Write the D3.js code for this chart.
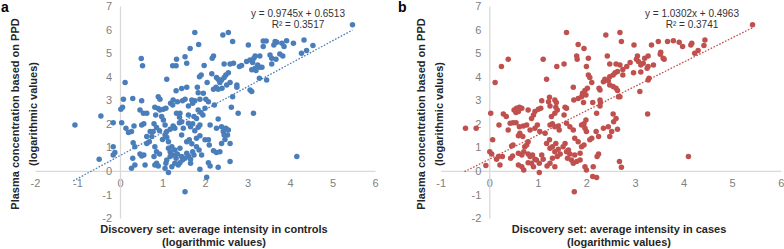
<!DOCTYPE html>
<html lang="en">
<head>
<meta charset="UTF-8">
<title>PPD scatter</title>
<script src="https://d3js.org/d3.v7.min.js"></script>
<style>
  html, body { margin: 0; background: #fff; overflow: hidden; }
  svg { display: block; }
  text { font-family: "Liberation Sans", Arial, sans-serif; }
</style>
</head>
<body>
<svg id="svg" width="784" height="249"></svg>
<script>
// values: [x, y]
const controls = [
  [5.47,6.20],[1.76,5.88],[2.55,5.88],[2.42,5.77],[1.85,5.37],[2.65,5.49],[1.65,5.20],[3.02,5.35],[3.37,5.52],[3.44,5.52],[3.65,5.49],[3.69,5.46],[3.92,5.53],[4.08,5.42],[4.33,5.56],[4.54,5.32],[3.81,5.42],[3.86,5.28],[3.62,5.35],[3.37,5.28],[4.39,5.11],[4.27,5.00],
  [0.50,4.77],[0.53,4.46],[1.33,4.74],[1.53,4.85],[1.57,4.57],[1.24,4.46],[1.32,4.46],[2.20,4.88],[2.17,4.78],[1.98,4.47],[2.45,4.54],[2.59,4.54],[2.67,4.57],
  [2.81,4.43],[2.86,4.48],[2.98,4.64],[3.06,4.71],[3.15,4.78],[3.18,4.88],[3.29,4.88],[3.12,4.60],[3.24,4.50],[3.29,4.40],[3.18,4.36],[3.20,4.26],[3.10,4.29],[3.34,4.40],[3.53,4.92],[3.57,4.78],[3.67,4.74],[3.76,4.96],[3.83,4.88],[3.57,4.54],
  [0.12,3.75],[1.10,3.89],[1.91,4.07],[1.87,4.00],[1.57,3.55],[1.82,3.55],
  [2.05,3.75],[2.16,4.12],[2.27,3.97],[2.31,3.89],[2.39,3.86],[2.45,3.97],[2.49,4.07],[2.55,4.17],[2.35,3.75],[2.26,3.55],[2.20,3.47],[2.31,3.47],[2.40,3.51],[2.51,3.65],[2.59,3.75],[2.75,3.65],[2.75,3.55],
  [3.28,3.93],[3.45,3.86],[3.06,3.44],[3.10,3.37],[1.96,3.30],[1.84,3.32],[2.65,3.15],
  [0.08,3.04],[0.30,3.08],[0.51,2.98],[0.90,3.15],[0.94,3.04],[1.25,3.01],[1.19,2.87],[1.35,2.94],[1.24,2.80],
  [1.47,2.98],[1.53,3.04],[1.69,3.01],[1.76,2.98],[1.88,3.04],[2.02,3.04],[2.08,2.94],[1.71,2.87],
  [2.62,2.70],[2.78,2.45],[3.14,2.45],[2.22,2.80],
  [0.02,2.62],[0.06,2.70],[0.47,2.59],[0.55,2.45],[0.63,2.45],
  [0.82,2.70],[0.90,2.65],[0.94,2.59],[1.02,2.62],[1.08,2.66],[0.84,2.38],[0.98,2.31],
  [1.33,2.45],[1.41,2.45],[1.40,2.28],[1.61,2.76],[1.61,2.38],[1.74,2.31],
  [1.84,2.59],[1.90,2.48],[1.95,2.38],[1.80,2.23],[2.00,2.66],
  [-0.45,2.33],[-1.06,1.95],[-0.16,2.05],[0.04,2.05],
  [0.14,1.81],[0.20,1.63],[0.27,1.67],[0.33,1.91],[0.51,1.95],[0.56,2.00],[0.71,1.67],[0.75,1.46],[0.80,2.00],[0.86,1.84],
  [1.02,2.16],[1.06,1.95],[1.10,1.67],[1.18,1.77],[1.25,1.91],[1.29,1.81],[1.40,2.05],[1.45,2.09],[1.49,1.81],[1.45,1.53],
  [1.61,2.02],[1.66,1.88],[1.71,2.00],[1.76,1.71],[1.84,1.85],[1.88,1.95],
  [2.12,1.95],[2.27,1.81],[2.39,1.88],[2.49,1.81],[2.55,1.74],[2.43,1.67],[2.45,1.53],[2.53,1.53],[2.47,1.34],[2.39,1.17],[2.31,2.21],[2.59,1.17],
  [-0.16,1.03],[-0.12,0.78],[-0.16,0.68],[-0.49,0.50],
  [0.31,1.20],[0.35,1.03],[0.47,0.72],[0.51,0.64],[0.56,0.68],[0.30,0.54],[0.27,0.11],[0.35,0.25],[0.59,0.25],
  [0.82,1.03],[0.86,0.82],[0.93,0.72],[0.80,0.61],[0.86,0.33],[0.90,0.21],[0.82,0.25],
  [1.00,1.34],[1.06,1.53],[1.10,1.43],[1.14,1.24],
  [1.14,0.96],[1.18,0.82],[1.22,1.03],[1.24,0.68],[1.18,0.61],[1.10,0.47],[1.08,0.33],[1.06,0.11],[1.14,-0.07],[1.22,0.18],[1.29,0.33],[1.32,0.54],[1.35,0.72],[1.29,0.89],[1.41,0.96],[1.45,0.61],[1.47,0.47],[1.41,0.35],[1.37,0.25],[1.53,0.54],[1.57,0.75],[1.61,0.64],[1.66,0.50],[1.71,0.82],[1.74,0.68],[1.80,1.03],[1.86,0.89],[1.92,0.68],[1.66,0.33],
  [1.57,1.24],[1.63,1.32],[1.69,1.15],[1.80,1.39],[1.88,1.49],[2.00,1.32],[2.08,1.32],[2.10,1.10],
  [2.08,0.35],[2.12,0.21],[1.88,0.07],[2.04,-0.27],[2.31,0.16],[2.59,0.40],
  [2.20,0.86],[2.27,0.78],[2.35,0.82],[4.16,0.61],[1.53,-0.88],
  [0.63,1.46],[0.69,1.24],[0.63,1.17],[0.93,1.71],[0.78,1.67],[1.45,3.50],[1.32,3.40]
];

const cases = [
  [5.42,6.20],[1.59,5.88],[2.69,5.88],[2.40,5.77],[1.83,5.37],[1.95,5.20],[2.72,5.49],[2.98,5.35],
  [3.34,5.35],[3.48,5.49],[3.67,5.49],[3.79,5.53],[3.91,5.46],[3.98,5.28],[4.15,5.35],[4.17,5.42],[4.44,5.56],[4.42,5.32],[3.53,5.04],[3.52,4.95],[3.58,4.78],[3.60,4.74],[4.23,5.00],[4.30,5.11],
  [0.39,4.74],[0.25,4.43],[0.12,3.75],[1.11,4.74],[1.39,4.43],[1.54,4.54],
  [1.80,4.88],[1.81,4.74],[2.04,4.78],[2.00,4.43],[2.43,4.88],[2.48,4.54],[2.61,4.54],[2.69,4.50],
  [2.75,4.31],[2.83,4.43],[2.90,4.60],[2.97,4.17],[3.03,4.74],[3.07,4.64],[3.12,4.50],[3.17,4.57],[3.20,4.78],[3.27,4.88],[3.25,4.36],[3.12,4.20],[3.27,4.43],[3.38,4.50],[3.05,4.88],
  [1.18,3.89],[2.04,4.07],[2.07,3.97],[2.11,3.75],[1.73,3.55],[1.97,3.41],[2.02,3.51],[1.92,3.30],
  [2.28,3.44],[2.26,3.51],[2.35,3.79],[2.38,3.89],[2.45,3.83],[2.48,4.00],[2.55,4.07],[2.59,4.17],[2.64,4.22],[2.48,3.65],[2.55,3.58],[2.61,3.51],[2.64,3.41],[2.66,3.15],[2.75,4.07],
  [3.10,3.37],[3.29,3.93],[3.27,3.86],
  [1.74,3.01],[1.83,3.08],[1.90,3.15],[1.99,3.22],[1.94,2.90],[2.13,2.90],[2.28,3.01],[2.29,2.90],[2.28,2.76],
  [1.24,3.13],[1.22,2.94],[1.25,2.76],[1.35,3.01],[1.38,2.90],[1.37,2.70],[1.40,2.59],[1.35,2.45],[1.28,2.31],
  [1.08,2.98],[1.06,2.66],[0.94,2.52],[1.01,2.62],[0.91,2.38],[0.87,2.23],[0.80,2.59],
  [0.56,2.66],[0.62,2.70],[0.67,2.66],[0.60,2.52],[0.55,2.48],[0.51,2.59],
  [1.56,2.70],[1.59,2.66],[1.54,2.38],[1.59,2.02],[1.66,1.88],[1.73,1.74],
  [0.03,2.45],[0.29,2.42],[0.35,2.31],[2.69,3.15],[3.26,2.42],[2.21,2.45],[2.55,2.42],[2.61,2.23],[2.56,2.09],
  [-0.49,1.81],[-0.27,1.81],[0.20,1.95],[0.39,1.74],[0.43,2.02],[0.49,2.05],[0.55,2.05],[0.62,1.88],[0.70,1.91],[0.77,1.95],[0.84,1.74],[0.94,1.81],[0.99,1.95],[1.04,1.67],[1.15,1.60],
  [1.25,1.95],[1.30,2.00],[1.35,1.88],[1.42,1.91],[1.44,1.74],
  [1.90,1.95],[1.95,2.00],[1.99,2.16],[1.97,1.81],[2.00,1.67],
  [2.20,1.67],[2.25,1.46],[2.35,1.81],[2.45,1.88],[2.52,1.67],[2.48,1.46],[2.64,1.77],[2.11,1.39],[2.07,1.32],
  [0.07,1.32],[0.01,0.82],[0.05,0.72],[0.19,0.61],[0.15,0.50],[0.27,0.61],[0.22,0.25],[-0.07,0.23],
  [0.46,1.06],[0.49,1.10],[0.48,0.64],[0.44,0.54],
  [0.60,1.49],[0.63,1.60],[0.69,1.46],[0.73,1.03],[0.71,0.82],[0.77,1.10],[0.80,1.24],
  [0.60,0.75],[0.67,0.68],[0.60,0.25],[0.67,0.18],[0.71,0.04],
  [0.80,0.72],[0.84,0.61],[0.89,0.68],[0.94,0.50],[0.87,0.33],[0.80,0.35],[0.91,0.18],[1.03,-0.07],[0.97,0.47],[1.03,0.33],[1.08,0.68],[1.11,0.50],
  [1.18,1.17],[1.24,1.32],[1.25,0.96],[1.30,1.03],[1.37,1.17],[1.35,0.82],[1.42,0.92],[1.40,0.61],[1.46,0.72],[1.30,0.54],[1.25,0.33],[1.19,0.21],[1.35,0.18],
  [1.52,1.03],[1.56,1.17],[1.59,0.82],[1.63,0.89],[1.66,0.72],[1.61,0.54],[1.69,0.47],[1.73,0.33],[1.80,0.40],[1.87,0.47],[1.76,0.68],[1.87,0.75],[1.90,1.03],[1.95,1.10],[1.83,1.24],[1.76,1.39],
  [1.97,0.18],[2.00,0.04],[2.14,0.18],[2.25,0.72],[2.22,0.61],[2.13,-0.24],[2.21,-0.28],[2.68,0.40],[2.72,0.16],[4.10,0.61],[1.75,-0.88]
];

const xTicksA = [-2, -1, 0, 1, 2, 3, 4, 5, 6];
const xTicksB = [-1, 0, 1, 2, 3, 4, 5, 6];
const yTicks = [-2, -1, 0, 1, 2, 3, 4, 5, 6, 7];

// trendline: slope, intercept, r2, x range
const fitA = { slope: 0.9745, intercept: 0.6513, r2: 0.3517, from: -1.1, to: 5.47 };
const fitB = { slope: 1.0302, intercept: 0.4963, r2: 0.3741, from: -0.51, to: 5.42 };

const svg = d3.select('#svg');

const panels = [
  {
    letter: 'a', data: controls, fit: fitA, xTicks: xTicksA, color: '#4a7ebb',
    xRange: [35, 375], letterX: 1,
    xTitle: 'Discovery set: average intensity in controls', xTitleX: 214,
    yTitleX: 15, eqX: 298
  },
  {
    letter: 'b', data: cases, fit: fitB, xTicks: xTicksB, color: '#c0504d',
    xRange: [440.7, 780.7], letterX: 398,
    xTitle: 'Discovery set: average intensity in cases', xTitleX: 619,
    yTitleX: 421, eqX: 692
  }
];

const y = d3.scaleLinear().domain([-2, 7]).range([218.1, 6]);

panels.forEach(p => {
  const x = d3.scaleLinear().domain(d3.extent(p.xTicks)).range(p.xRange);
  const g = svg.append('g');

  const xAxis = g.append('g')
    .attr('transform', `translate(0,${y(0)})`)
    .call(d3.axisBottom(x).tickValues(p.xTicks).tickSize(0).tickPadding(7.8).tickFormat(d3.format('d')));
  const yAxis = g.append('g')
    .attr('transform', `translate(${x(0)},0)`)
    .call(d3.axisLeft(y).tickValues(yTicks).tickSize(0).tickPadding(8).tickFormat(d3.format('d')));

  [xAxis, yAxis].forEach(a => {
    a.select('.domain').attr('stroke', '#d9d9d9').attr('stroke-width', 1.3);
    a.selectAll('text')
      .attr('fill', '#808080')
      .attr('font-size', '11px')
      .attr('font-family', '"Liberation Sans", Arial, sans-serif')
      .text(d => d < 0 ? '-' + Math.abs(d) : d);
  });

  // trendline
  g.append('line')
    .attr('x1', x(p.fit.from))
    .attr('y1', y(p.fit.slope * p.fit.from + p.fit.intercept))
    .attr('x2', x(p.fit.to))
    .attr('y2', y(p.fit.slope * p.fit.to + p.fit.intercept))
    .attr('stroke', p.color)
    .attr('stroke-width', 1.3)
    .attr('stroke-dasharray', '1.6,1.6');

  g.selectAll('circle.pt').data(p.data).join('circle')
    .attr('class', 'pt')
    .attr('cx', d => x(d[0]))
    .attr('cy', d => y(d[1]))
    .attr('r', 2.75)
    .attr('fill', p.color);

  // equation
  const eq = g.append('text')
    .attr('text-anchor', 'middle')
    .attr('font-size', '10px')
    .attr('fill', '#333');
  eq.append('tspan').attr('x', p.eqX).attr('y', 16.5)
    .text(`y = ${p.fit.slope.toFixed(4)}x + ${p.fit.intercept.toFixed(4)}`);
  eq.append('tspan').attr('x', p.eqX).attr('y', 27.8)
    .text(`R² = ${p.fit.r2.toFixed(4)}`);

  // x title
  const xt = g.append('text')
    .attr('text-anchor', 'middle')
    .attr('font-size', '11px')
    .attr('font-weight', 'bold')
    .attr('fill', '#262626');
  xt.append('tspan').attr('x', p.xTitleX).attr('y', 233).text(p.xTitle);
  xt.append('tspan').attr('x', p.xTitleX).attr('y', 246.2).text('(logarithmic values)');

  // y title
  const yt = g.append('text')
    .attr('transform', `translate(${p.yTitleX},114) rotate(-90)`)
    .attr('text-anchor', 'middle')
    .attr('font-size', '11px')
    .attr('font-weight', 'bold')
    .attr('fill', '#262626');
  yt.append('tspan').attr('x', 0).attr('y', 4).text('Plasma concentration based on PPD');
  yt.append('tspan').attr('x', 0).attr('y', 22).text('(logarithmic values)');

  g.append('text')
    .attr('x', p.letterX)
    .attr('y', 12)
    .attr('font-size', '14px')
    .attr('font-weight', 'bold')
    .attr('fill', '#000')
    .text(p.letter);
});
</script>
</body>
</html>
